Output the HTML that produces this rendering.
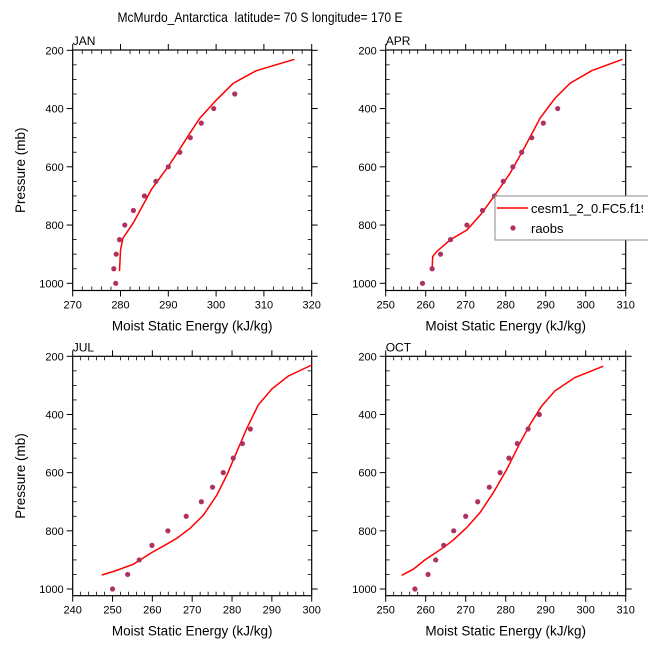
<!DOCTYPE html>
<html><head><meta charset="utf-8"><style>
html,body{margin:0;padding:0;background:#fff}
svg{display:block;font-family:"Liberation Sans",Arial,sans-serif}
</style></head><body>
<svg id="chart" width="648" height="649" viewBox="0 0 648 649" xmlns="http://www.w3.org/2000/svg">
<rect width="648" height="649" fill="#fff"/>
<text x="260" y="22" font-size="14" text-anchor="middle" textLength="285" lengthAdjust="spacingAndGlyphs" xml:space="preserve">McMurdo_Antarctica  latitude= 70 S longitude= 170 E</text>
</svg>
<script>
const panelNames = ["JAN","APR","JUL","OCT"];
const obsP = [1000,950,900,850,800,750,700,650,600,550,500,450,400,350];
const janObs = [279.0,278.6,279.1,279.8,280.9,282.7,285.0,287.4,290.0,292.4,294.6,296.9,299.5,303.9];
const aprObs = [259.2,261.6,263.7,266.2,270.3,274.2,277.2,279.4,281.8,284.0,286.5,289.4,293.0];
const julObs = [250.0,253.8,256.7,259.9,263.9,268.5,272.3,275.1,277.8,280.3,282.6,284.6];
const octObs = [257.3,260.6,262.5,264.5,267.0,270.0,273.0,275.9,278.6,280.8,282.9,285.6,288.4];
const janModP = [958,886,845,792,677,599,536,485,433,370,313,270,231];
const janModX = [279.8,280.0,280.5,282.7,286.5,290.0,292.5,294.5,296.6,300.1,303.6,308.4,316.4];
const aprModP = [954,908,891,851,817,760,697,622,531,433,365,313,270,231];
const aprModX = [261.6,261.75,262.75,266.1,270.3,274.0,277.3,281.1,284.8,288.6,292.3,296.1,301.5,309.2];
const julModP = [952,938,915,875,846,826,791,746,677,608,528,448,367,312,268,230];
const julModX = [247.3,250.6,255.2,259.8,263.6,266.1,269.5,272.8,276.2,278.7,281.2,283.7,286.6,290.0,294.1,300.0];
const octModP = [953,932,900,858,832,789,737,669,589,497,434,371,319,273,234];
const octModX = [254.0,256.9,259.8,264.4,266.9,270.25,273.6,276.9,280.25,283.6,286.1,289.0,292.3,297.3,304.4];
const xRanges = [[270,320],[250,310],[240,300],[250,310]];
const yTicks = [200,400,600,800,1000];

const NS="http://www.w3.org/2000/svg";
const svg=document.getElementById('chart');
function mk(tag,attrs,parent){const e=document.createElementNS(NS,tag);for(const k in attrs)e.setAttribute(k,attrs[k]);(parent||svg).appendChild(e);return e;}

const panels=[
 {x0:72.7,x1:311.7,top:50,bot:290.5,p200:50.3,p1000:283.3,obs:janObs,mp:janModP,mx:janModX,ylab:true},
 {x0:385.7,x1:625.7,top:50,bot:290.5,p200:50.3,p1000:283.3,obs:aprObs,mp:aprModP,mx:aprModX,ylab:false},
 {x0:72.7,x1:311.7,top:356.3,bot:595.7,p200:356.3,p1000:589,obs:julObs,mp:julModP,mx:julModX,ylab:true},
 {x0:385.7,x1:625.7,top:356.3,bot:595.7,p200:356.3,p1000:589,obs:octObs,mp:octModP,mx:octModX,ylab:false}
];

panels.forEach((pn,i)=>{
  const [xmin,xmax]=xRanges[i];
  const X=v=>pn.x0+(v-xmin)/(xmax-xmin)*(pn.x1-pn.x0);
  const Y=p=>pn.p200+(p-200)/800*(pn.p1000-pn.p200);
  const g=mk('g',{});
  
  
  const fr=mk('rect',{x:pn.x0,y:pn.top,width:pn.x1-pn.x0,height:pn.bot-pn.top,fill:'none',stroke:'#000','stroke-width':1.2},g);
  
  
  for(let v=xmin;v<=xmax;v+=2){
    const x=X(v);const major=(v%10===0);
    if(major){
      mk('line',{x1:x,y1:pn.bot,x2:x,y2:pn.bot+6,stroke:'#000','stroke-width':1},g);
      mk('line',{x1:x,y1:pn.top,x2:x,y2:pn.top-6,stroke:'#000','stroke-width':1},g);
      const t=mk('text',{x:x,y:pn.bot+18,'font-size':11,'text-anchor':'middle'},g);
      t.textContent=v;
      
      
    } else {
      mk('line',{x1:x,y1:pn.bot,x2:x,y2:pn.bot-4,stroke:'#000','stroke-width':0.8},g);
      mk('line',{x1:x,y1:pn.top,x2:x,y2:pn.top+4,stroke:'#000','stroke-width':0.8},g);
    }
  }
  for(let p=200;p<=1000;p+=50){
    const y=Y(p);const major=(p%200===0);
    if(major){
      mk('line',{x1:pn.x0,y1:y,x2:pn.x0-6,y2:y,stroke:'#000','stroke-width':1},g);
      mk('line',{x1:pn.x1,y1:y,x2:pn.x1+6,y2:y,stroke:'#000','stroke-width':1},g);
    } else {
      mk('line',{x1:pn.x0,y1:y,x2:pn.x0+4,y2:y,stroke:'#000','stroke-width':0.8},g);
      mk('line',{x1:pn.x1,y1:y,x2:pn.x1-4,y2:y,stroke:'#000','stroke-width':0.8},g);
    }
  }
  yTicks.forEach(p=>{
    const t=mk('text',{x:pn.x0-9,y:Y(p)+4,'font-size':11,'text-anchor':'end'},g);
    t.textContent=p;
    
    
  });
  const mt=mk('text',{x:pn.x0,y:pn.top-5,'font-size':12},g);
  mt.textContent=panelNames[i];
  
  
  const xt=mk('text',{x:(pn.x0+pn.x1)/2,y:pn.bot+40,'font-size':13.5,'text-anchor':'middle'},g);
  xt.textContent='Moist Static Energy (kJ/kg)';
  
  
  if(pn.ylab){
    const cy=(pn.top+pn.bot)/2;
    const yt=mk('text',{x:0,y:0,'font-size':13.5,'text-anchor':'middle',transform:`translate(25,${cy}) rotate(-90)`},g);
    yt.textContent='Pressure (mb)';
    
    
  }
  const pts=pn.mx.map((v,k)=>X(v).toFixed(1)+','+Y(pn.mp[k]).toFixed(1)).join(' ');
  const ln=mk('polyline',{points:pts,fill:'none',stroke:'#ff0000','stroke-width':1.5},g);
  
  
  pn.obs.forEach((v,k)=>{
    const c=mk('circle',{cx:X(v),cy:Y(obsP[k]),r:2.6,fill:'#b03060'},g);
    
    
  });
});

const lg=mk('g',{});


const cp=mk('clipPath',{id:'lgclip'},lg);
mk('rect',{x:495,y:195,width:148,height:46},cp);
mk('rect',{x:495,y:196,width:170,height:44,fill:'#fff',stroke:'#888','stroke-width':1},lg);
mk('line',{x1:497,y1:208,x2:528,y2:208,stroke:'#ff0000','stroke-width':1.5},lg);
const l1=mk('text',{x:531,y:213,'font-size':13,'clip-path':'url(#lgclip)'},lg);
l1.textContent='cesm1_2_0.FC5.f19_f19';


mk('circle',{cx:513,cy:228,r:2.6,fill:'#b03060'},lg);
const l2=mk('text',{x:531,y:233,'font-size':13},lg);
l2.textContent='raobs';


</script>
</body></html>
